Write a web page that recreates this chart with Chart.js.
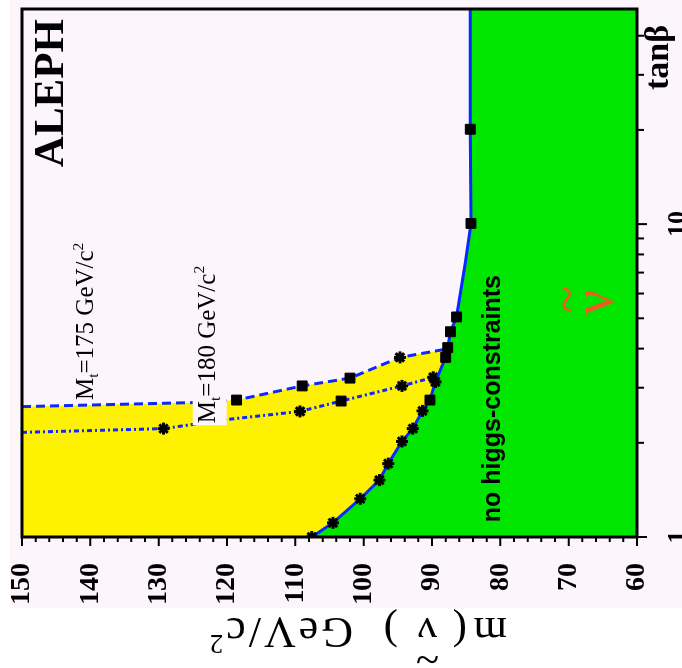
<!DOCTYPE html>
<html>
<head>
<meta charset="utf-8">
<script src="https://cdn.jsdelivr.net/npm/chart.js@4.4.1/dist/chart.umd.min.js"></script>
<style>
  html, body { margin:0; padding:0; background:#fff; overflow:hidden; }
  /* the plot is drawn upright (x = tanβ, y = mass) and turned a quarter left, like the scanned figure */
  #wrap { position:absolute; left:7px; top:-7px; width:668px; height:682px; transform:rotate(-90deg); }
  canvas { display:block; }
</style>
</head>
<body>
<div id="wrap"><canvas id="c" width="668" height="682"></canvas></div>
<script>
const SERIF = "'Liberation Serif', 'Times New Roman', serif";
const SANS  = "'Liberation Sans', Arial, sans-serif";
const BLUE = '#0a28ff', YELLOW = '#fff200', GREEN = '#00e600', PINK = '#fcf5fc', RED = '#f05a22';

// main limit (solid blue) : x = tanβ, y = m(ν̃) GeV/c²
const mainTanb = [1.00, 1.11, 1.325, 1.52, 1.716, 2.02, 2.22, 2.53, 2.74, 3.13, 3.75, 4.03, 4.53, 5.05, 7.59, 10.05, 20.1, 48.7];
const mainMass = [107.6, 104.5, 100.5, 97.7, 96.4, 94.4, 92.8, 91.4, 90.3, 89.5, 88.0, 87.7, 87.3, 86.4, 85.1, 84.3, 84.4, 84.4];
const mainMark = ['star','star','star','star','star','star','star','star','rect','star','rect','rect','rect','rect','','rect','rect',''];

// Mt = 175 GeV/c² (dashed)
const mt175Tanb = [2.61, 2.69, 2.74, 3.04, 3.22, 3.75, 3.98];
const mt175Mass = [150, 124.7, 118.6, 109.0, 102.0, 94.7, 88.1];
const mt175Mark = ['', '', 'rect', 'rect', 'rect', 'star', ''];

// Mt = 180 GeV/c² (dash-dot)
const mt180Tanb = [2.16, 2.22, 2.37, 2.52, 2.72, 3.04, 3.24];
const mt180Mass = [150, 129.3, 120.3, 109.3, 103.3, 94.4, 89.8];
const mt180Mark = ['', 'star', '', 'star', 'rect', 'star', 'star'];

const massRange  = [60, 150];
const tanbRange  = [1, 48.7];
const tanbLabels = [1, 10];

const pts = (xs, ys) => xs.map((x, i) => ({ x, y: ys[i] }));
const marks = arr => ({
  pointStyle: c => arr[c.dataIndex] || 'circle',
  pointRadius: c => arr[c.dataIndex] === 'rect' ? 7 : arr[c.dataIndex] === 'star' ? 6 : 0,
  pointBorderWidth: c => arr[c.dataIndex] === 'star' ? 3 : 1,
  pointBackgroundColor: '#000',
  pointBorderColor: '#000'
});

// text with sub/superscripts, returns width
function rich(ctx, parts, x, y, size, draw) {
  let cx = x;
  parts.forEach(p => {
    const small = p.sub || p.sup;
    ctx.font = (small ? size * 0.62 : size) + 'px ' + SERIF;
    const dy = p.sub ? size * 0.2 : p.sup ? -size * 0.42 : 0;
    if (draw) ctx.fillText(p.t, cx, y + dy);
    cx += ctx.measureText(p.t).width;
  });
  return cx - x;
}

const deco = {
  id: 'deco',
  beforeDraw(chart) {
    const ctx = chart.ctx;
    ctx.save();
    ctx.fillStyle = PINK;
    ctx.fillRect(60, 10, chart.width - 60, chart.height - 10);
    ctx.restore();
  },
  afterDraw(chart) {
    const { ctx, chartArea: a, scales: { x, y } } = chart;
    ctx.save();
    ctx.fillStyle = '#000';
    ctx.textBaseline = 'alphabetic';

    // Mt labels
    const lab175 = [{ t:'M' }, { t:'t', sub:true }, { t:'=175 GeV/c' }, { t:'2', sup:true }];
    const lab180 = [{ t:'M' }, { t:'t', sub:true }, { t:'=180 GeV/c' }, { t:'2', sup:true }];
    rich(ctx, lab175, x.getPixelForValue(2.74), y.getPixelForValue(139.6), 25, true);
    const bx = x.getPixelForValue(2.31), by = y.getPixelForValue(121.8);
    const w = rich(ctx, lab180, bx, by, 25, false);
    ctx.fillStyle = PINK;
    ctx.fillRect(bx - 2, by - 22, w + 4, 34);
    ctx.fillStyle = '#000';
    rich(ctx, lab180, bx, by, 25, true);

    // no higgs-constraints
    ctx.font = 'bold 25px ' + SANS;
    ctx.fillText('no higgs-constraints', x.getPixelForValue(1.115), y.getPixelForValue(80.05));

    // sneutrino symbol
    ctx.fillStyle = RED;
    const nx = x.getPixelForValue(5.13);
    ctx.font = '56px ' + SERIF;
    ctx.fillText('ν', nx, y.getPixelForValue(63.7));
    ctx.font = '50px ' + SERIF;
    ctx.fillText('~', nx + 2, y.getPixelForValue(70.0) + 14);
    ctx.fillStyle = '#000';

    // ALEPH
    ctx.font = 'bold 43px ' + SERIF;
    ctx.textAlign = 'right';
    ctx.fillText('ALEPH', a.right - 10, a.top + 41);
    ctx.textAlign = 'left';

    // tanβ axis title
    ctx.font = 'bold 34px ' + SERIF;
    ctx.fillText('tanβ', a.right - 81, a.bottom + 31);

    // mass axis title
    ctx.save();
    ctx.translate(50, a.top + 485);
    ctx.rotate(-Math.PI / 2);
    ctx.font = '43px ' + SERIF;
    ctx.fillText('m', 0, 0);
    ctx.fillText('(', 40, 0);
    ctx.fillText('ν', 70, 0);
    ctx.fillText('~', 68, -28);
    ctx.fillText(')', 109, 0);
    ctx.font = '44px ' + SERIF;
    ctx.letterSpacing = '3px';
    ctx.fillText('GeV/c', 154, 0);
    const gw = ctx.measureText('GeV/c').width;
    ctx.letterSpacing = '0px';
    ctx.font = '27px ' + SERIF;
    ctx.fillText('2', 154 + gw, -17);
    ctx.restore();

    // frame and tick marks
    ctx.strokeStyle = '#000';
    ctx.lineWidth = 3;
    ctx.strokeRect(a.left, a.top, a.right - a.left, a.bottom - a.top);
    ctx.lineWidth = 2;
    ctx.beginPath();
    for (let m = massRange[0]; m <= massRange[1]; m += 2) {
      const py = y.getPixelForValue(m), len = m % 10 === 0 ? 9 : 5;
      ctx.moveTo(a.left - len, py); ctx.lineTo(a.left, py);
    }
    for (let d = 1; d <= 10; d *= 10) {
      for (let k = 1; k <= 9; k++) {
        const v = k * d;
        if (v > tanbRange[1]) break;
        const px = x.getPixelForValue(v), len = k === 1 ? 10 : 7;
        ctx.moveTo(px, a.bottom); ctx.lineTo(px, a.bottom + len);
      }
    }
    ctx.stroke();
    ctx.restore();
  }
};

// label overhang must not shrink the frame
const noOverhang = s => { s.paddingTop = 0; s.paddingBottom = 0; s.paddingLeft = 0; s.paddingRight = 0; };

new Chart(document.getElementById('c'), {
  type: 'scatter',
  data: {
    datasets: [
      { label: 'limit', data: pts(mainTanb, mainMass), showLine: true, borderColor: BLUE, borderWidth: 3,
        backgroundColor: GREEN, fill: 'start', order: 1, ...marks(mainMark) },
      { label: 'Mt=175', data: pts(mt175Tanb, mt175Mass), showLine: true, borderColor: BLUE, borderWidth: 3,
        borderDash: [9, 5], fill: false, order: 2, ...marks(mt175Mark) },
      { label: 'Mt=180', data: pts(mt180Tanb, mt180Mass), showLine: true, borderColor: BLUE, borderWidth: 3,
        borderDash: [5, 3, 2, 3], fill: false, order: 3, ...marks(mt180Mark) },
      { label: 'excluded', data: pts([tanbRange[0], ...mt175Tanb], [massRange[1], ...mt175Mass]), showLine: true,
        borderWidth: 0, borderColor: 'rgba(0,0,0,0)', backgroundColor: YELLOW, fill: 'start', pointRadius: 0, order: 4 }
    ]
  },
  options: {
    responsive: false,
    animation: false,
    devicePixelRatio: 1,
    layout: { padding: { top: 22, right: 2, left: 0, bottom: 0 } },
    plugins: {
      legend: { display: false },
      tooltip: { enabled: false },
      filler: { drawTime: 'beforeDatasetsDraw' }
    },
    scales: {
      x: {
        type: 'logarithmic', min: tanbRange[0], max: tanbRange[1], position: 'bottom',
        grid: { display: false, drawTicks: false }, border: { display: false },
        afterBuildTicks: s => { s.ticks = tanbLabels.map(v => ({ value: v })); },
        afterFit: s => { s.height = 45; noOverhang(s); },
        ticks: { autoSkip: false, maxRotation: 0, padding: 26, color: '#000',
                 font: { family: SERIF, size: 26, weight: 'bold' }, callback: v => String(v) }
      },
      y: {
        type: 'linear', min: massRange[0], max: massRange[1], position: 'left',
        grid: { display: false, drawTicks: false }, border: { display: false },
        afterFit: s => { s.width = 131; noOverhang(s); },
        ticks: { stepSize: 10, padding: 26, color: '#000',
                 font: { family: SERIF, size: 28, weight: 'bold' } }
      }
    }
  },
  plugins: [deco]
});
</script>
</body>
</html>
